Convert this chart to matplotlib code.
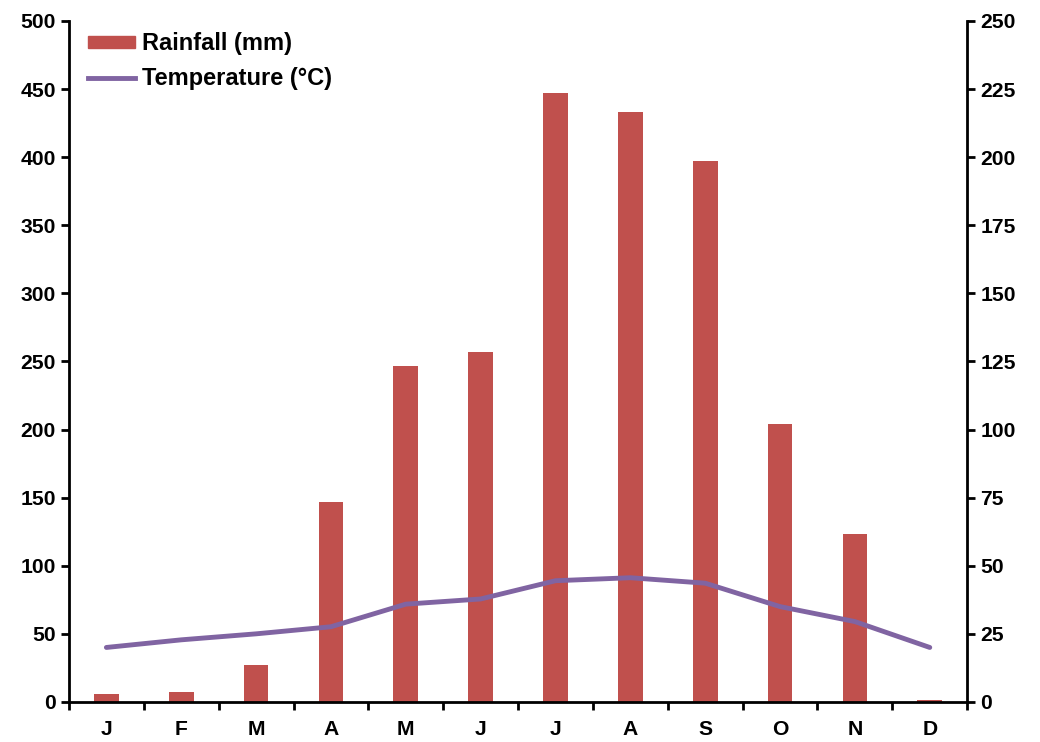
import numpy as np
import matplotlib.pyplot as plt
from matplotlib.patches import Patch
from matplotlib.lines import Line2D

plt.rcParams['font.family'] = ['Liberation Sans', 'DejaVu Sans']
plt.rcParams['font.weight'] = 'bold'

months = ['J', 'F', 'M', 'A', 'M', 'J', 'J', 'A', 'S', 'O', 'N', 'D']
rainfall = [6, 7, 27, 147, 247, 257, 447, 433, 397, 204, 123, 1.5]
temperature = [20, 22.8, 25, 27.6, 35.9, 37.8, 44.5, 45.6, 43.6, 35, 29.5, 20]

bar_col = '#C0504D'
line_col = '#8064A2'

fig = plt.figure(figsize=(10.4, 7.42), dpi=100)
ax = fig.add_axes([0.0663, 0.054, 0.8637, 0.9177])
ax2 = ax.twinx()

x = np.arange(len(months))
ax.bar(x, rainfall, width=0.33, color=bar_col, zorder=2)
ax2.plot(x, temperature, color=line_col, lw=3.5, solid_capstyle='round', zorder=3)

ax.set_xlim(-0.5, 11.5)
ax.set_ylim(0, 500)
ax2.set_ylim(0, 250)
ax.set_yticks(range(0, 501, 50))
ax2.set_yticks(range(0, 251, 25))
ax.set_xticks(x)
ax.set_xticklabels(months)
ax.set_xticks(np.arange(-0.5, 12, 1), minor=True)
ax.tick_params(axis='x', which='major', length=0, pad=13, labelsize=15.2)
ax.tick_params(axis='x', which='minor', length=6, width=2, direction='out')
ax.tick_params(axis='y', length=6, width=2, labelsize=15.2, direction='out')
ax2.tick_params(axis='y', length=6, width=2, labelsize=15.2, direction='out')

for a in (ax, ax2):
    a.spines['top'].set_visible(False)
    for s in ('left', 'right', 'bottom'):
        a.spines[s].set_linewidth(2)
ax.spines['right'].set_visible(False)
ax2.spines['left'].set_visible(False)
ax2.spines['bottom'].set_visible(False)

handles = [Patch(color=bar_col), Line2D([0], [0], color=line_col, lw=3.5)]
ax.legend(handles, ['Rainfall (mm)', 'Temperature (°C)'], loc='upper left',
          bbox_to_anchor=(0.0, 1.011), frameon=False, fontsize=17,
          handlelength=2.0, handleheight=0.45, labelspacing=0.5, handletextpad=0.3,
          borderaxespad=0.4)

fig.savefig('out.png', dpi=100)
